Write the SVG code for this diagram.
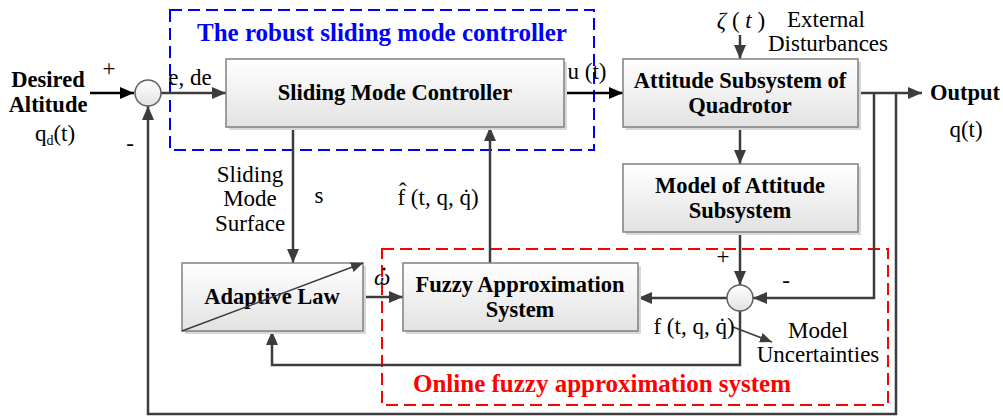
<svg xmlns="http://www.w3.org/2000/svg" width="1003" height="420" viewBox="0 0 1003 420">
<defs>
<linearGradient id="bg" x1="0" y1="0" x2="0" y2="1">
<stop offset="0" stop-color="#ffffff"/>
<stop offset="1" stop-color="#e2e2e2"/>
</linearGradient>
<marker id="ah" viewBox="0 0 14 12" refX="14" refY="6" markerWidth="14" markerHeight="12" markerUnits="userSpaceOnUse" orient="auto">
<path d="M0,0 L14,6 L0,12 z" fill="#3c3c3c"/>
</marker>
<marker id="ahk" viewBox="0 0 14 12" refX="14" refY="6" markerWidth="14" markerHeight="12" markerUnits="userSpaceOnUse" orient="auto">
<path d="M0,0 L14,6 L0,12 z" fill="#000"/>
</marker>
<marker id="ahs" viewBox="0 0 12 10" refX="12" refY="5" markerWidth="12" markerHeight="10" markerUnits="userSpaceOnUse" orient="auto">
<path d="M0,0 L12,5 L0,10 z" fill="#3c3c3c"/>
</marker>
</defs>
<style>
.box{fill:url(#bg);stroke:#808080;stroke-width:1.5}
.sh{fill:#d8d8d8}
.ln{fill:none;stroke:#3c3c3c;stroke-width:2.5}
.lk{fill:none;stroke:#000;stroke-width:2.5}
.thin{fill:none;stroke:#3c3c3c;stroke-width:1.5}
.b{font-family:"Liberation Serif",serif;font-weight:bold;font-size:22.5px;fill:#000;text-anchor:middle}
.r{font-family:"Liberation Serif",serif;font-size:23px;fill:#000;text-anchor:middle}
.ttl{font-family:"Liberation Serif",serif;font-weight:bold;font-size:25px;text-anchor:middle}
.jn{fill:url(#bg);stroke:#606060;stroke-width:1.5}
</style>
<rect width="1003" height="420" fill="#fff"/>

<g id="blue-region">
<rect x="170" y="10" width="424" height="140" fill="none" stroke="#0000ff" stroke-width="2" stroke-dasharray="12,6"/>
<text class="ttl" x="382" y="41" fill="#0000ff">The robust sliding mode controller</text>
</g>
<g id="red-region">
<rect x="382" y="249" width="506" height="156" fill="none" stroke="#ff0000" stroke-width="2" stroke-dasharray="12,6"/>
<text class="ttl" x="602" y="392" fill="#ff0000">Online fuzzy approximation system</text>
</g>

<g id="connectors">
<line class="lk" x1="90" y1="93" x2="134" y2="93" marker-end="url(#ahk)"/>
<line class="ln" x1="161" y1="93" x2="226" y2="93" marker-end="url(#ah)"/>
<line class="lk" x1="564" y1="93" x2="623" y2="93" marker-end="url(#ahk)"/>
<line class="ln" x1="740" y1="35" x2="740" y2="59" marker-end="url(#ah)"/>
<line class="ln" x1="858" y1="93" x2="922" y2="93" marker-end="url(#ah)"/>
<line class="ln" x1="740" y1="127" x2="740" y2="164" marker-end="url(#ah)"/>
<line class="ln" x1="740" y1="232" x2="740" y2="285" marker-end="url(#ah)"/>
<path class="ln" d="M874,93 V298 H753" marker-end="url(#ah)"/>
<line class="ln" x1="727" y1="298" x2="638" y2="298" marker-end="url(#ah)"/>
<line class="ln" x1="490" y1="263" x2="490" y2="127" marker-end="url(#ah)"/>
<line class="ln" x1="293" y1="127" x2="293" y2="263" marker-end="url(#ah)"/>
<line class="ln" x1="363" y1="297" x2="403" y2="297" marker-end="url(#ah)"/>
<path class="ln" d="M740,311 V365 H272 V331" marker-end="url(#ah)"/>
<path class="ln" d="M896,93 V414 H148 V106" marker-end="url(#ah)"/>
<line class="thin" x1="733" y1="327" x2="772" y2="342" marker-end="url(#ahs)"/>
</g>

<g id="junction1">
<circle class="jn" cx="148" cy="93" r="13"/>
</g>
<g id="junction2">
<circle class="jn" cx="740" cy="298" r="13"/>
</g>

<g id="smc">
<rect class="sh" x="229" y="62" width="338" height="68"/>
<rect class="box" x="226" y="59" width="338" height="68"/>
<text class="b" x="395" y="100">Sliding Mode Controller</text>
</g>
<g id="attitude">
<rect class="sh" x="626" y="62" width="235" height="68"/>
<rect class="box" x="623" y="59" width="235" height="68"/>
<text class="b" x="740" y="88">Attitude Subsystem of</text>
<text class="b" x="740" y="113">Quadrotor</text>
</g>
<g id="model">
<rect class="sh" x="626" y="167" width="235" height="68"/>
<rect class="box" x="623" y="164" width="235" height="68"/>
<text class="b" x="740" y="193">Model of Attitude</text>
<text class="b" x="740" y="218">Subsystem</text>
</g>
<g id="fuzzy">
<rect class="sh" x="406" y="266" width="235" height="68"/>
<rect class="box" x="403" y="263" width="235" height="68"/>
<text class="b" x="520" y="292">Fuzzy Approximation</text>
<text class="b" x="520" y="317">System</text>
</g>
<g id="adaptive">
<rect class="sh" x="185" y="266" width="181" height="68"/>
<rect class="box" x="182" y="263" width="181" height="68"/>
<text class="b" x="272" y="304">Adaptive Law</text>
<line class="thin" x1="182" y1="331" x2="363" y2="263" marker-end="url(#ahs)"/>
</g>

<g id="labels">
<text class="b" x="48" y="87">Desired</text>
<text class="b" x="48" y="112">Altitude</text>
<text class="r" x="55" y="141">q<tspan font-size="14" dy="4">d</tspan><tspan dy="-4">(t)</tspan></text>
<text class="r" x="109" y="76">+</text>
<text class="r" x="130" y="151">-</text>
<text class="r" x="190" y="85">e, de</text>
<text class="r" x="587" y="79">u (t)</text>
<text class="r" x="741" y="28"><tspan font-style="italic">ζ</tspan> ( <tspan font-style="italic">t</tspan> )</text>
<text class="r" x="826" y="27">External</text>
<text class="r" x="828" y="51">Disturbances</text>
<text class="b" x="965" y="100">Output</text>
<text class="r" x="966" y="137">q(t)</text>
<text class="r" x="250" y="182">Sliding</text>
<text class="r" x="250" y="206">Mode</text>
<text class="r" x="250" y="231">Surface</text>
<text class="r" x="319" y="203">s</text>
<text class="r" x="438" y="205">f̂ (t, q, q̇)</text>
<text class="r" x="382" y="285" font-style="italic">ω</text>
<circle cx="384" cy="269" r="1.6" fill="#000"/>
<text class="r" x="723" y="264">+</text>
<text class="r" x="786" y="288">-</text>
<text class="r" x="694" y="334">f (t, q, q̇)</text>
<text class="r" x="818" y="338">Model</text>
<text class="r" x="818" y="362">Uncertainties</text>
</g>
</svg>
